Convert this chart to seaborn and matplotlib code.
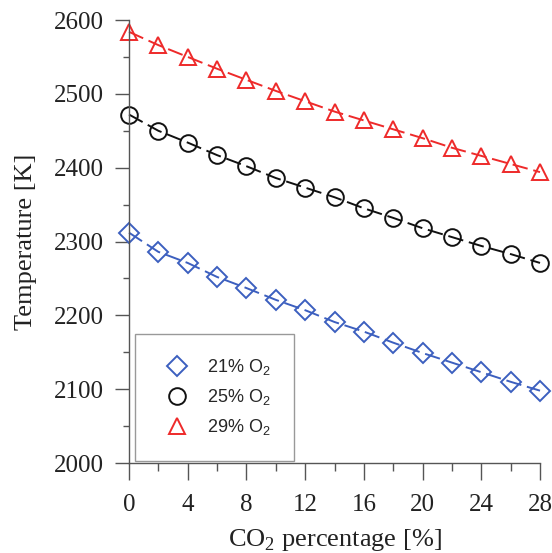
import numpy as np
import pandas as pd
import matplotlib
matplotlib.use("Agg")
import matplotlib.pyplot as plt
from matplotlib.lines import Line2D
from matplotlib.ticker import MultipleLocator
import seaborn as sns

# CO2 percentage [%]
co2 = [0, 2, 4, 6, 8, 10, 12, 14, 16, 18, 20, 22, 24, 26, 28]

# temperatures [K]
temp_21 = [2312, 2286, 2271, 2252, 2237, 2221, 2207, 2191, 2178, 2163,
           2149, 2136, 2123, 2110, 2098]
temp_25 = [2472, 2450, 2434, 2417, 2402, 2386, 2373, 2360, 2345, 2332,
           2318, 2306, 2294, 2283, 2271]
temp_29 = [2584, 2566, 2550, 2534, 2519, 2504, 2490, 2476, 2464, 2452,
           2440, 2427, 2416, 2405, 2394]

labels = ["21% O$_\\mathsf{2}$", "25% O$_\\mathsf{2}$", "29% O$_\\mathsf{2}$"]
colors = ["#3c5fbf", "#111111", "#ee2a2a"]
markers = ["D", "o", "^"]
msizes = [10.5, 12, 12]

sns.set_style("ticks")
plt.rcParams["font.family"] = ["Liberation Serif", "DejaVu Serif"]
plt.rcParams["mathtext.fontset"] = "custom"
plt.rcParams["mathtext.rm"] = "Liberation Serif"
plt.rcParams["mathtext.sf"] = "Liberation Sans"

fig = plt.figure(figsize=(5.52, 5.53), dpi=100)
ax = fig.add_axes([0.2337, 0.1627, 0.7446, 0.8011])

series = [temp_21, temp_25, temp_29]
handles = []
for vals, lab, c, m, ms in zip(series, labels, colors, markers, msizes):
    df = pd.DataFrame({"co2": co2, "T": vals})
    sns.lineplot(
        data=df, x="co2", y="T", ax=ax, color=c, linewidth=1.4,
        linestyle=(0, (8, 3)), marker=m, markersize=ms,
        markerfacecolor="none", markeredgecolor=c, markeredgewidth=1.4,
        legend=False, clip_on=False,
    )
    handles.append(Line2D([], [], linestyle="none", marker=m, markersize=ms,
                          markerfacecolor="none", markeredgecolor=c,
                          markeredgewidth=1.4, label=lab))

ax.set_xlim(0, 28)
ax.set_ylim(2000, 2600)
ax.xaxis.set_major_locator(MultipleLocator(4))
ax.xaxis.set_minor_locator(MultipleLocator(2))
ax.yaxis.set_major_locator(MultipleLocator(100))
ax.yaxis.set_minor_locator(MultipleLocator(50))

sns.despine(ax=ax)
for s in ["left", "bottom"]:
    ax.spines[s].set_color("#555555")
    ax.spines[s].set_linewidth(1.0)
ax.tick_params(axis="x", which="major", direction="out", length=12,
               width=1.0, color="#555555", labelsize=18, pad=10)
ax.tick_params(axis="x", which="minor", direction="out", length=6,
               width=1.0, color="#555555")
ax.tick_params(axis="y", which="major", direction="out", length=10,
               width=1.0, color="#555555", labelsize=18, pad=8)
ax.tick_params(axis="y", which="minor", direction="out", length=4,
               width=1.0, color="#555555")
for t in ax.get_xticklabels() + ax.get_yticklabels():
    t.set_color("#222222")

ax.set_xlabel("CO$_2$ percentage [%]", fontsize=19, labelpad=8,
              color="#222222")
ax.set_ylabel("Temperature [K]", fontsize=19, labelpad=12, color="#222222")

leg = ax.legend(
    handles=handles, loc="lower left", bbox_to_anchor=(0.015, 0.005),
    borderaxespad=0, frameon=True, fancybox=False, framealpha=1,
    edgecolor="#999999", borderpad=1.3, labelspacing=0.55,
    handletextpad=0.7, handlelength=2.0,
    prop={"family": ["Liberation Sans"], "size": 13},
)
leg.get_frame().set_linewidth(1.0)

fig.savefig("out.png", dpi=100)
